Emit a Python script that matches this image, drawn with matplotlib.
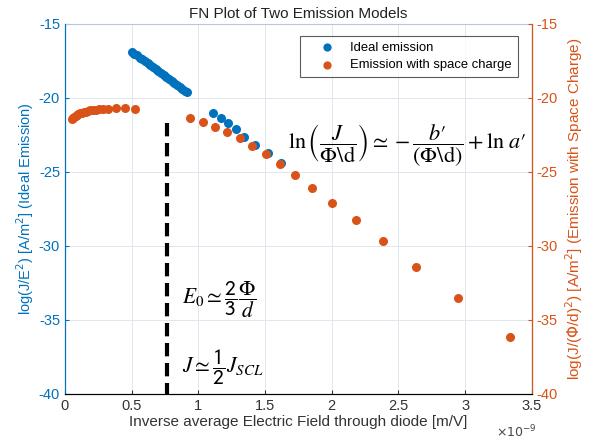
import matplotlib
matplotlib.use('agg')
import matplotlib.pyplot as plt

plt.rcParams['font.family'] = ['Liberation Sans', 'DejaVu Sans']
plt.rcParams['axes.unicode_minus'] = False

BLUE = '#0072BD'
ORANGE = '#D95319'

# inverse field, in units of 1e-9 m/V
ideal_x = [0.50, 0.52, 0.54, 0.56, 0.58, 0.60, 0.62, 0.64, 0.66, 0.68, 0.70,
           0.72, 0.74, 0.76, 0.78, 0.80, 0.82, 0.84, 0.86, 0.88, 0.90, 0.912,
           1.112, 1.167, 1.22, 1.28, 1.344, 1.427, 1.524, 1.62]
ideal_y = [-16.87, -17.00, -17.13, -17.27, -17.40, -17.53, -17.66, -17.79, -17.93,
           -18.06, -18.19, -18.32, -18.46, -18.59, -18.72, -18.85, -18.98, -19.12,
           -19.25, -19.38, -19.51, -19.59,
           -21.00, -21.33, -21.71, -22.12, -22.61, -23.15, -23.74, -24.42]

sc_x = [0.050, 0.060, 0.070, 0.080, 0.090, 0.100, 0.112, 0.125, 0.140, 0.155,
        0.172, 0.190, 0.210, 0.232, 0.256, 0.283, 0.325, 0.38, 0.45, 0.525,
        0.937, 1.037, 1.124, 1.217, 1.312, 1.404, 1.505, 1.612, 1.724, 1.854,
        2.004, 2.18, 2.386, 2.634, 2.948, 3.338]
sc_y = [-21.42, -21.33, -21.26, -21.20, -21.15, -21.10, -21.05, -21.00, -20.96,
        -20.92, -20.88, -20.85, -20.82, -20.80, -20.77, -20.75, -20.72, -20.70,
        -20.70, -20.72,
        -21.37, -21.60, -21.94, -22.30, -22.73, -23.24, -23.78, -24.46, -25.20,
        -26.06, -27.07, -28.25, -29.68, -31.40, -33.50, -36.17]

e0_x = 0.762
e0_top = -21.7

fig = plt.figure(figsize=(6.01, 4.43), dpi=100)
ax = fig.add_axes([0.108, 0.111, 0.777, 0.835])
ax2 = ax.twinx()

ax.set_xlim(0, 3.5)
ax.set_ylim(-40, -15)
ax2.set_ylim(-40, -15)
ax.set_xticks([0, 0.5, 1, 1.5, 2, 2.5, 3, 3.5])
ax.set_xticklabels(['0', '0.5', '1', '1.5', '2', '2.5', '3', '3.5'])
ax.set_yticks([-40, -35, -30, -25, -20, -15])
ax2.set_yticks([-40, -35, -30, -25, -20, -15])
ax.grid(True, color='#dfe6ee', linewidth=0.7)
ax.set_axisbelow(True)

h1 = ax2.scatter(ideal_x, ideal_y, s=30, color=BLUE, zorder=3, label='Ideal emission')
h2 = ax2.scatter(sc_x, sc_y, s=30, color=ORANGE, zorder=4, label='Emission with space charge')
ax2.plot([e0_x, e0_x], [e0_top, -40], color='black', linestyle=(0, (3.2, 1.6)),
         linewidth=3, zorder=5)

ax.spines['top'].set_color('#b8c8d8')
ax2.spines['top'].set_visible(False)
ax.spines['bottom'].set_color('#333333')
ax.spines['left'].set_color(BLUE)
ax2.spines['left'].set_color(BLUE)
ax2.spines['right'].set_color(ORANGE)
ax.tick_params(axis='x', direction='in', colors='#333333', labelsize=10.5, length=3)
ax.tick_params(axis='y', direction='in', colors=BLUE, labelsize=10.5, length=3)
ax2.tick_params(axis='y', direction='in', colors=ORANGE, labelsize=10.5, length=3)

ax.set_title('FN Plot of Two Emission Models', fontsize=11, color='#222222', pad=4)
ax.set_xlabel('Inverse average Electric Field through diode [m/V]', fontsize=11,
              color='#333333', labelpad=2)
ax.set_ylabel(r'log(J/E$^2$) [A/m$^2$] (Ideal Emission)', fontsize=10.5, color=BLUE,
              labelpad=2)
ax2.set_ylabel(r'log(J/($\Phi$/d)$^2$) [A/m$^2$] (Emission with Space Charge)',
               fontsize=11, color=ORANGE, labelpad=4)
fig.text(0.826, 0.012, r'$\times10^{-9}$', fontsize=9, color='#444444')

leg = ax2.legend(handles=[h1, h2], loc='upper right', bbox_to_anchor=(0.970, 0.968),
                 borderaxespad=0, fontsize=9.4, frameon=True, fancybox=False,
                 handlelength=3.25, handletextpad=0.15, borderpad=0.45,
                 labelspacing=0.4, scatterpoints=1, markerscale=0.9)
leg.get_frame().set_edgecolor('#333333')
leg.get_frame().set_linewidth(0.8)

ax2.text(1.67, -23.2,
         "$\\ln\\left(\\dfrac{J}{\\Phi\\backslash\\mathrm{d}}\\right)\\simeq-\\dfrac{b\u2032}{(\\Phi\\backslash\\mathrm{d})}+\\ln\\,a\u2032$",
         fontsize=16, va='center', ha='left', zorder=6, math_fontfamily='stix')
ax2.text(0.88, -33.65, r'$E_0\simeq\dfrac{\mathsf{2}}{\mathsf{3}}\dfrac{\Phi}{d}$',
         fontsize=15.5, va='center', ha='left', zorder=6, math_fontfamily='stix')
ax2.text(0.88, -38.2, r'$J\simeq\dfrac{\mathsf{1}}{\mathsf{2}}J_{SCL}$', fontsize=15.5,
         va='center', ha='left', zorder=6, math_fontfamily='stix')

fig.savefig('out.png', dpi=100)
